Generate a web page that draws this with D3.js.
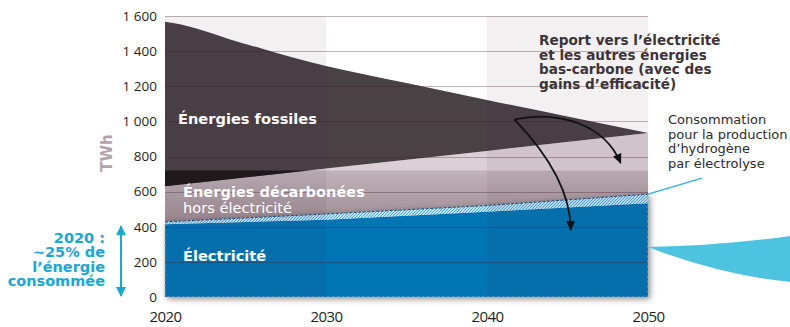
<!DOCTYPE html>
<html>
<head>
<meta charset="utf-8">
<script src="https://cdn.jsdelivr.net/npm/d3@7"></script>
<style>
  html, body { margin: 0; padding: 0; background: #fff; }
  svg { display: block; }
</style>
</head>
<body>
<svg id="chart" width="790" height="327"></svg>
<script>
// --- Données (TWh) ---------------------------------------------------------
const years = [2020, 2030, 2040, 2050];
const electricite = [414, 440, 486, 534];          // consommation d'électricité (hors H2)
const hydrogene = [14, 33, 35, 52];                 // électricité pour l'hydrogène par électrolyse
const fossilesBas = [630, 731, 832, 934];           // limite basse des énergies fossiles
const fossilesYears = [2020, 2021, 2022, 2024, 2026, 2028, 2030, 2035, 2040, 2045, 2050];
const fossilesHaut = [1567, 1552, 1527, 1468, 1415, 1362, 1316, 1219, 1122, 1028, 934];
const seuilDecarbone = 720;                         // bande « décarbonées hors électricité »
const yTicks = [0, 200, 400, 600, 800, 1000, 1200, 1400, 1600];
const xTicks = [2020, 2030, 2040, 2050];
const colonnes = [[2020, 2030], [2040, 2050]];

// --- Échelles -------------------------------------------------------------
const svg = d3.select("#chart");
const x = d3.scaleLinear().domain([2020, 2050]).range([165, 648]);
const y = d3.scaleLinear().domain([0, 1600]).range([297, 16]);
const crisp = v => Math.round(v) + 0.5;

const labelFont = "'DejaVu Sans', Verdana, sans-serif";
const tickFont = "'Open Sans', 'Noto Sans', sans-serif";
const cyan = "#17a7d8";

const rows = years.map((yr, i) => ({
  yr, elec: electricite[i], total: electricite[i] + hydrogene[i], fosBas: fossilesBas[i]
}));

// --- Définitions ------------------------------------------------------------
const defs = svg.append("defs");

defs.append("clipPath").attr("id", "sousSeuil")
  .append("rect")
  .attr("x", x(2020)).attr("width", x(2050) - x(2020))
  .attr("y", y(seuilDecarbone)).attr("height", y(0) - y(seuilDecarbone));

const grad = defs.append("linearGradient").attr("id", "degradeMauve")
  .attr("gradientUnits", "userSpaceOnUse")
  .attr("x1", 0).attr("x2", 0)
  .attr("y1", y(seuilDecarbone)).attr("y2", y(420));
grad.append("stop").attr("offset", 0).attr("stop-color", "#c1b3ba");
grad.append("stop").attr("offset", 1).attr("stop-color", "#9d8a93");

const hatch = defs.append("pattern").attr("id", "hachures")
  .attr("patternUnits", "userSpaceOnUse").attr("width", 3).attr("height", 3);
hatch.append("rect").attr("width", 3).attr("height", 3).attr("fill", "#ffffff");
hatch.append("path").attr("d", "M-1,1 l2,-2 M0,3 l3,-3 M2,4 l2,-2")
  .attr("stroke", "#3aa6dc").attr("stroke-width", 1.1);

const shadow = defs.append("filter").attr("id", "ombre")
  .attr("x", "-10%").attr("y", "-20%").attr("width", "125%").attr("height", "150%");
shadow.append("feDropShadow").attr("dx", 2).attr("dy", 2)
  .attr("stdDeviation", 3).attr("flood-color", "#000").attr("flood-opacity", 0.45);

defs.append("marker").attr("id", "flecheNoire")
  .attr("markerUnits", "userSpaceOnUse").attr("viewBox", "0 -5 10 10")
  .attr("refX", 9).attr("refY", 0).attr("markerWidth", 11).attr("markerHeight", 10)
  .attr("orient", "auto")
  .append("path").attr("d", "M0,-4.5L10,0L0,4.5Z").attr("fill", "#111");

defs.append("marker").attr("id", "flecheCyan")
  .attr("markerUnits", "userSpaceOnUse").attr("viewBox", "0 -5 10 10")
  .attr("refX", 9).attr("refY", 0).attr("markerWidth", 10).attr("markerHeight", 11)
  .attr("orient", "auto-start-reverse")
  .append("path").attr("d", "M0,-5L10,0L0,5Z").attr("fill", cyan);

// --- Aires ------------------------------------------------------------------
const reportArea = d3.area()
  .x(d => x(d.yr)).y0(d => y(d.total)).y1(d => y(d.fosBas));

const topLine = d3.line().x(d => x(d[0])).y(d => y(d[1])).curve(d3.curveMonotoneX);
const straight = d3.line().x(d => x(d[0])).y(d => y(d[1]));
const topPts = fossilesYears.map((yr, i) => [yr, fossilesHaut[i]]);
const botPts = years.map((yr, i) => [yr, fossilesBas[i]]).reverse();
const fossilPath = topLine(topPts) + straight(botPts).replace(/^M/, "L") + "Z";

const zone = svg.append("g");
// transfert vers l'électricité et les autres énergies bas-carbone
zone.append("path").datum(rows).attr("d", reportArea).attr("fill", "#dbd0d6");
// énergies décarbonées hors électricité (même aire, sous le seuil)
zone.append("path").datum(rows).attr("d", reportArea)
  .attr("fill", "url(#degradeMauve)").attr("clip-path", "url(#sousSeuil)");
// énergies fossiles
zone.append("path").attr("d", fossilPath).attr("fill", "#4a4145");
zone.append("path").attr("d", fossilPath).attr("fill", "#1e191b")
  .attr("clip-path", "url(#sousSeuil)");

// électricité + hydrogène
const boite = svg.append("g").attr("filter", "url(#ombre)");
boite.append("path").datum(rows)
  .attr("d", d3.area().x(d => x(d.yr)).y0(y(0)).y1(d => y(d.elec)))
  .attr("fill", "#0074b3");
boite.append("path").datum(rows)
  .attr("d", d3.area().x(d => x(d.yr)).y0(d => y(d.elec)).y1(d => y(d.total)))
  .attr("fill", "url(#hachures)");

// --- Grille -----------------------------------------------------------------
svg.append("g").selectAll("line").data(yTicks.filter(t => t > 0)).join("line")
  .attr("x1", x(2020)).attr("x2", x(2050))
  .attr("y1", d => crisp(y(d))).attr("y2", d => crisp(y(d)))
  .attr("stroke", "rgb(70,20,45)").attr("stroke-opacity", 0.32).attr("stroke-width", 1);

// contour pointillé de la boîte électricité
svg.append("path").datum(rows)
  .attr("d", d3.area().x(d => x(d.yr)).y0(y(0)).y1(d => y(d.total)))
  .attr("fill", "none").attr("stroke", "#a7acb2").attr("stroke-width", 1)
  .attr("stroke-dasharray", "3,2");
svg.append("path").datum(rows)
  .attr("d", d3.line().x(d => x(d.yr)).y(d => y(d.total)))
  .attr("fill", "none").attr("stroke", "#1b4d7a").attr("stroke-width", 1)
  .attr("stroke-dasharray", "3,1.5");

// colonnes grisées par décennie
svg.append("g").selectAll("rect").data(colonnes).join("rect")
  .attr("x", d => x(d[0])).attr("width", d => x(d[1]) - x(d[0]))
  .attr("y", y(1600)).attr("height", y(0) - y(1600))
  .attr("fill", "rgb(60,30,45)").attr("fill-opacity", 0.065);

// --- Axes -------------------------------------------------------------------
const fmt = d3.formatLocale({ decimal: ",", thousands: " ", grouping: [3], currency: ["", ""] }).format(",d");

const yAxis = svg.append("g").attr("transform", `translate(${x(2020)},0)`)
  .call(d3.axisLeft(y).tickValues(yTicks).tickFormat(fmt).tickSize(0).tickPadding(8));
yAxis.select(".domain").remove();
yAxis.selectAll("text").attr("font-family", tickFont).attr("font-size", 13.5)
  .attr("fill", "#231f20");

const xAxis = svg.append("g").attr("transform", `translate(0,${y(0)})`)
  .call(d3.axisBottom(x).tickValues(xTicks).tickFormat(d3.format("d")).tickSize(0).tickPadding(14));
xAxis.select(".domain").remove();
xAxis.selectAll("text").attr("font-family", tickFont).attr("font-size", 15)
  .attr("letter-spacing", -0.6).attr("fill", "#231f20");

svg.append("text")
  .attr("transform", `translate(${112},${y(820)}) rotate(-90)`)
  .attr("text-anchor", "middle")
  .attr("font-family", labelFont).attr("font-weight", "bold").attr("font-size", 15)
  .attr("fill", "#b5a3ab").text("TWh");

// --- Libellés des aires ------------------------------------------------------
const label = (tx, ty, txt, bold, size, color, anchor) =>
  svg.append("text").attr("x", tx).attr("y", ty)
    .attr("font-family", labelFont).attr("font-weight", bold ? "bold" : "normal")
    .attr("font-size", size).attr("fill", color)
    .attr("text-anchor", anchor || "start").text(txt);

label(178, 124, "Énergies fossiles", true, 14.6, "#ffffff");
label(183, 197, "Énergies décarbonées", true, 14.6, "#ffffff");
label(183, 213, "hors électricité", false, 14.6, "#ffffff");
label(183, 261, "Électricité", true, 14.6, "#ffffff");

["Report vers l’électricité", "et les autres énergies", "bas-carbone (avec des", "gains d’efficacité)"]
  .forEach((t, i) => label(539, 45 + i * 14.5, t, true, 13.6, "#3d3438"));

["Consommation", "pour la production", "d’hydrogène", "par électrolyse"]
  .forEach((t, i) => label(668, 124 + i * 14.6, t, false, 13, "#2b2b2b"));

["2020 :", "~25% de", "l’énergie", "consommée"]
  .forEach((t, i) => label(105, 243 + i * 14.4, t, true, 14.5, cyan, "end"));

// --- Flèches -----------------------------------------------------------------
const s = [x(2041.7), y(1012)];
const e1 = [x(2048.3), y(763)];
const e2 = [x(2045.2), y(382)];
svg.append("path")
  .attr("d", `M${s[0]},${s[1]} C${s[0] + 45},${s[1] - 9} ${s[0] + 90},${s[1] + 5} ${e1[0]},${e1[1]}`)
  .attr("fill", "none").attr("stroke", "#111").attr("stroke-width", 1.8)
  .attr("marker-end", "url(#flecheNoire)");
svg.append("path")
  .attr("d", `M${s[0]},${s[1]} C${s[0] + 25},${s[1] + 26} ${e2[0]},${e2[1] - 45} ${e2[0]},${e2[1]}`)
  .attr("fill", "none").attr("stroke", "#111").attr("stroke-width", 1.8)
  .attr("marker-end", "url(#flecheNoire)");

// double flèche « 25 % » à gauche
svg.append("line")
  .attr("x1", 121).attr("x2", 121)
  .attr("y1", y(0) - 1).attr("y2", y(electricite[0]) + 2)
  .attr("stroke", cyan).attr("stroke-width", 2)
  .attr("marker-start", "url(#flecheCyan)").attr("marker-end", "url(#flecheCyan)");

// renvoi vers la consommation d'hydrogène
const h2End = [x(2050), y(electricite[3] + hydrogene[3])];
svg.append("line")
  .attr("x1", h2End[0]).attr("y1", h2End[1])
  .attr("x2", h2End[0] + 54).attr("y2", h2End[1] - 16)
  .attr("stroke", "#27b3de").attr("stroke-width", 1.4);

// flux électricité sortant vers la droite
const fx = x(2050), fy = y(285);
svg.append("path")
  .attr("d", `M${fx},${fy} Q${fx + 72},${fy - 1} ${fx + 142},${fy - 11} L${fx + 142},${fy + 35} Q${fx + 72},${fy + 28} ${fx},${fy} Z`)
  .attr("fill", "#4ec3df");
</script>
</body>
</html>
